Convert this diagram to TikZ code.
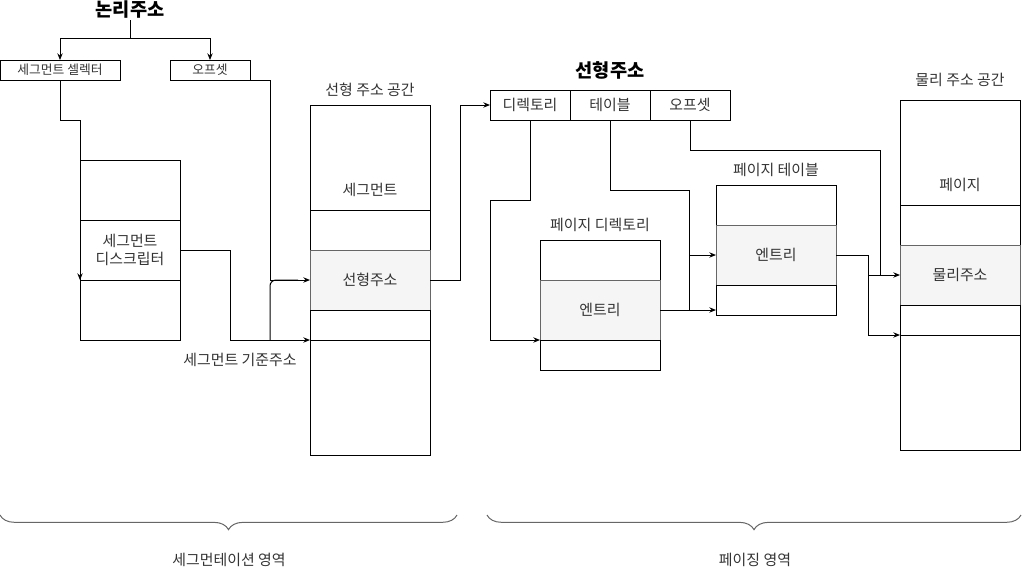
\documentclass[tikz,border=0pt]{standalone}
\usepackage{fontspec}
\newfontfamily\krfont{Noto Sans CJK KR}
\usetikzlibrary{arrows.meta,decorations.pathreplacing}
\definecolor{memink}{HTML}{000000}
\definecolor{memgray}{HTML}{666666}
\definecolor{memfill}{HTML}{F5F5F5}
\definecolor{memtext}{HTML}{333333}
\newcommand{\pxu}{0.75pt}
\newcommand{\lbfont}{\krfont\fontsize{11.2}{13.5}\selectfont}
\newcommand{\smfont}{\krfont\fontsize{9.6}{11.5}\selectfont}
\newcommand{\ttlfont}{\krfont\bfseries\fontsize{14}{16}\selectfont}
\tikzset{
  cell/.style={draw=memink, fill=white, line width=\pxu, inner sep=0pt, outer sep=0pt, align=center, text=memtext},
  hit/.style={cell, draw=memgray, fill=memfill},
  fld/.style={cell, minimum height=20*\pxu, font=\smfont},
  ttl/.style={font=\ttlfont, inner sep=1pt},
  txt/.style={text=memtext, inner sep=1pt},
  wire/.style={draw=memink, line width=\pxu},
  arr/.style={wire, -{Stealth[length=5pt, width=4pt]}},
  areabrace/.style={draw=memgray, line width=\pxu, decorate, decoration={brace, mirror, amplitude=11pt}},
}
\begin{document}
\begin{tikzpicture}[x=\pxu, y=-\pxu, font=\lbfont]
    \useasboundingbox (0,0) rectangle (1022,572);
    % segmentation side
    \node[ttl] (logi) at (130,10) {논리주소};
    \node[fld, minimum width=120*\pxu] (sel) at (60,70) {세그먼트 셀렉터};
    \node[fld, minimum width=80*\pxu] (soff) at (210,70) {오프셋};
    \coordinate (lsplit) at (130,38);
    \draw[wire] (logi.south) -- (lsplit);
    \draw[arr] (lsplit) -| (sel.north);
    \draw[arr] (lsplit) -| (soff.north);
    \foreach \nm/\y/\tx in {desc1/190/{}, desc2/250/{세그먼트\\디스크립터}, desc3/310/{}}
    { \node[cell, minimum width=100*\pxu, minimum height=60*\pxu] (\nm) at (130,\y) {\tx}; }
    \node[txt] (linttl) at (370,90) {선형 주소 공간};
    \foreach \nm/\y/\h/\st/\tx in {lin1/157.5/105/cell/{}, lin2/230/40/cell/{}, lin3/280/60/hit/선형주소, lin4/325/30/cell/{}, lin5/397.5/115/cell/{}}
    { \node[\st, minimum width=120*\pxu, minimum height=\h*\pxu] (\nm) at (370,\y) {\tx}; }
    \node[txt] (segtx) at (370,190) {세그먼트};
    \draw[arr] (sel.south) -- ++(0,40) -| (desc2.south west);
    \draw[arr] (soff.south east) -- ++(20,0) |- (lin3.west);
    \draw[arr] (desc2.east) -- ++(50,0) |- (lin4.south west);
    \coordinate (bjoin) at (270,340);
    \draw[wire, rounded corners=6*\pxu] (bjoin) |- ([xshift=-12*\pxu]lin3.west);
    \node[txt] (baselbl) at (240,360) {세그먼트 기준주소};
    % paging side
    \node[ttl] (linaddr) at (610,70) {선형주소};
    \foreach \nm/\x/\tx in {pdir/530/디렉토리, ptbl/610/테이블, poff/690/오프셋}
    { \node[cell, minimum width=80*\pxu, minimum height=30*\pxu] (\nm) at (\x,105) {\tx}; }
    \draw[arr] (lin3.east) -- ++(30,0) |- (pdir.west);
    \node[txt] (pdttl) at (600,225) {페이지 디렉토리};
    \foreach \nm/\y/\h/\st/\tx in {pd1/260/40/cell/{}, pd2/310/60/hit/엔트리, pd3/355/30/cell/{}}
    { \node[\st, minimum width=120*\pxu, minimum height=\h*\pxu] (\nm) at (600,\y) {\tx}; }
    \node[txt] (ptttl) at (776,170) {페이지 테이블};
    \foreach \nm/\y/\h/\st/\tx in {pt1/205/40/cell/{}, pt2/255/60/hit/엔트리, pt3/300/30/cell/{}}
    { \node[\st, minimum width=120*\pxu, minimum height=\h*\pxu] (\nm) at (776,\y) {\tx}; }
    \node[txt] (phttl) at (960,80) {물리 주소 공간};
    \foreach \nm/\y/\h/\st/\tx in {ph1/152.5/105/cell/{}, ph2/225/40/cell/{}, ph3/275/60/hit/물리주소, ph4/320/30/cell/{}, ph5/392.5/115/cell/{}}
    { \node[\st, minimum width=120*\pxu, minimum height=\h*\pxu] (\nm) at (960,\y) {\tx}; }
    \node[txt] (pgtx) at (960,185) {페이지};
    \draw[arr] (pdir.south) -- ++(0,80) -- ++(-40,0) |- (pd2.south west);
    \draw[arr] (ptbl.south) -- ++(0,70) -- ++(79,0) |- (pt2.west);
    \draw[arr] (pd2.east) -- (pd2.east -| pt3.west);
    \coordinate (tjoin) at (689,310);
    \draw[wire] (tjoin) -- ++(0,-55);
    \draw[arr] (poff.south) -- ++(0,30) -- ++(190,0) |- (ph3.west);
    \draw[arr] (pt2.east) -- ++(32,0) |- (ph4.south west);
    \coordinate (pjoin) at (868,275);
    \draw[wire] (pjoin) -- ++(12,0);
    % areas
    \draw[areabrace] (0,515) -- (457,515);
    \draw[areabrace] (487,515) -- (1021,515);
    \node[txt] (segarea) at (229,560) {세그먼테이션 영역};
    \node[txt] (pgarea) at (755,560) {페이징 영역};
  \end{tikzpicture}
\end{document}
